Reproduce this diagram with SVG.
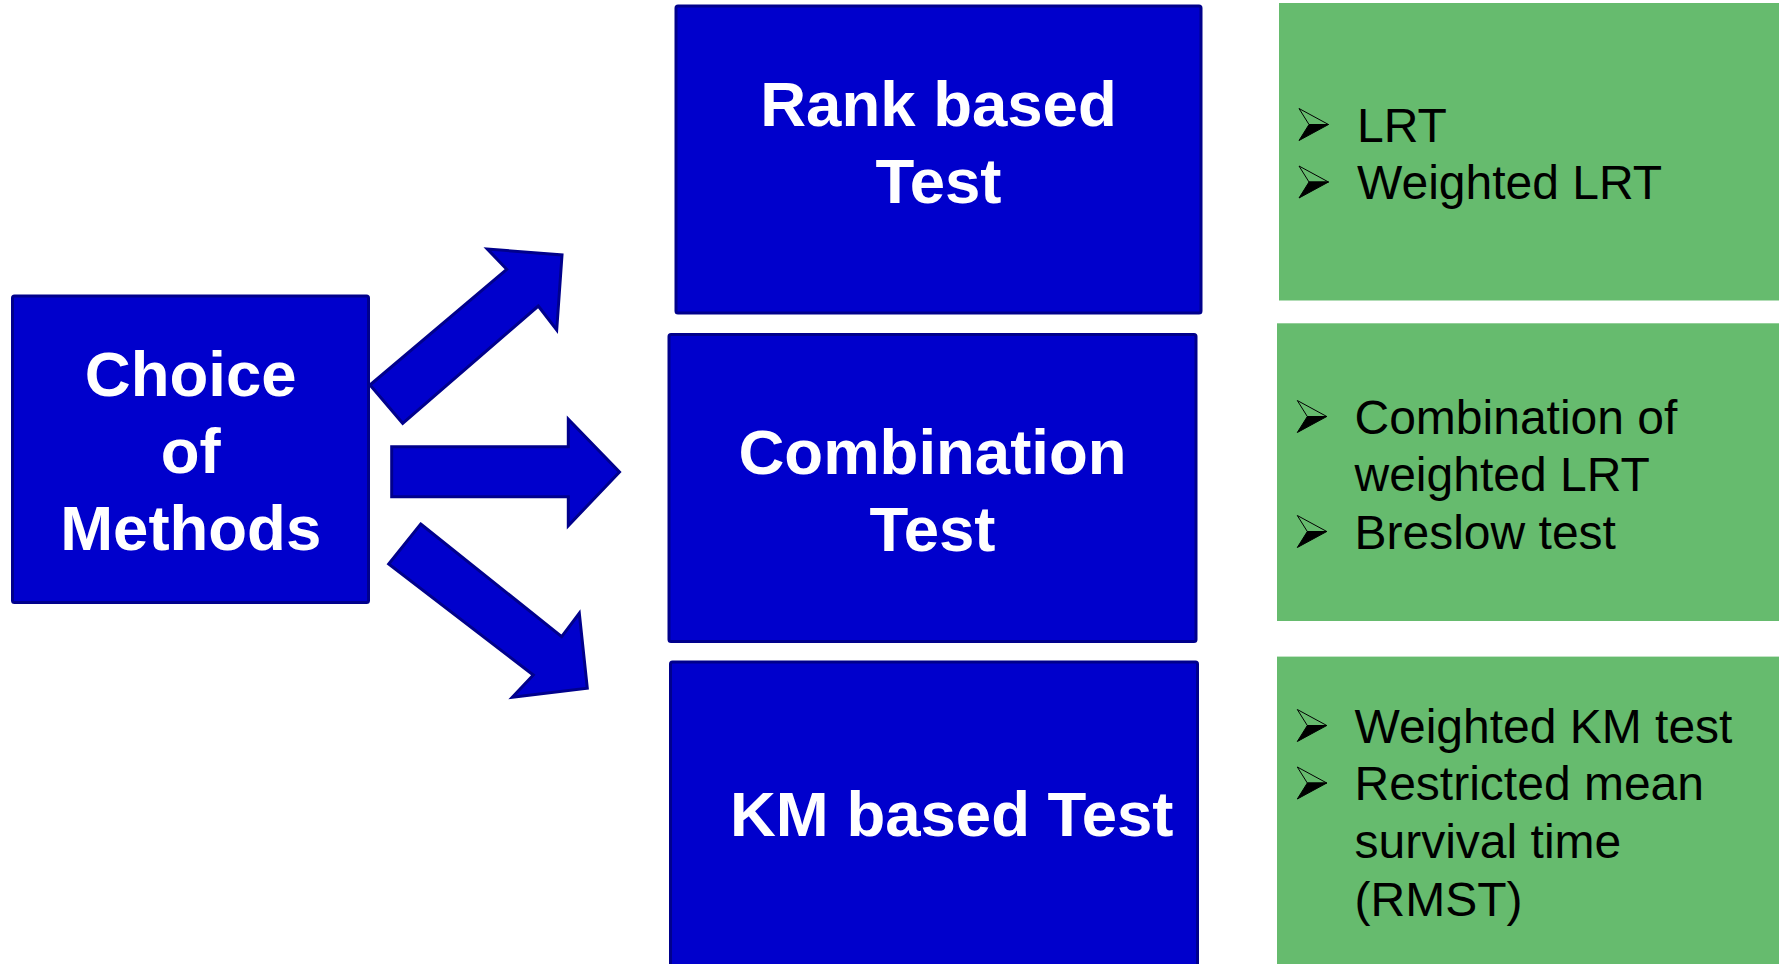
<svg xmlns="http://www.w3.org/2000/svg" width="1779" height="964" viewBox="0 0 1779 964">
<style>
.box{fill:#0000CC;stroke:#00008C;stroke-width:3;}
.green{fill:#66BB6E;}
.arrow{fill:#0000CC;stroke:#00008C;stroke-width:3;stroke-linejoin:miter;}
.bold{font-family:"Liberation Sans",Arial,sans-serif;font-weight:bold;font-size:63.5px;fill:#FFFFFF;text-anchor:middle;}
.item{font-family:"Liberation Sans",Arial,sans-serif;font-size:48px;fill:#000000;}
</style>
<defs>
<g id="bullet">
<path d="M0,0 L29.5,16 L10,16 Z" fill="none" stroke="#000" stroke-width="1"/>
<path d="M10,16 L29.5,16 L0,32 Z" fill="#000" stroke="#000" stroke-width="1" stroke-linejoin="miter"/>
</g>
</defs>
<rect width="1779" height="964" fill="#FFFFFF"/>

<g id="connectors">
<polygon class="arrow" points="370,385 506.7,269.3 487.3,249 562,255 556.7,330 538.3,306 402.7,423.3"/>
<polygon class="arrow" points="391.7,446.7 568.3,446.7 568.3,419.3 619.5,472 568.3,525.7 568.3,496.7 391.7,496.7"/>
<polygon class="arrow" points="420.7,524 561.7,636.7 579.3,613.3 587.3,688.3 512.3,697.3 533.3,675 388.7,564"/>
</g>

<g id="choice">
<rect class="box" x="12.5" y="296" width="356" height="306.5" rx="2"/>
<text class="bold" x="190.7" y="396">Choice</text>
<text class="bold" x="190.7" y="473">of</text>
<text class="bold" x="190.7" y="550">Methods</text>
</g>

<g id="rank">
<rect class="box" x="676" y="6" width="525" height="307" rx="2"/>
<text class="bold" x="938.5" y="126">Rank based</text>
<text class="bold" x="938.5" y="203">Test</text>
</g>

<g id="combination">
<rect class="box" x="669" y="334.5" width="527" height="307" rx="2"/>
<text class="bold" x="932.5" y="473.5">Combination</text>
<text class="bold" x="932.5" y="550.5">Test</text>
</g>

<g id="km">
<rect class="box" x="670.5" y="662" width="527" height="320" rx="2"/>
<text class="bold" x="730" y="836" style="text-anchor:start">KM based Test</text>
</g>

<g id="list-rank">
<rect class="green" x="1279" y="3" width="510" height="297.5"/>
<use href="#bullet" x="1299" y="108.5"/>
<text class="item" x="1357" y="141.7">LRT</text>
<use href="#bullet" x="1299" y="166"/>
<text class="item" x="1357" y="199.2">Weighted LRT</text>
</g>

<g id="list-combination">
<rect class="green" x="1277" y="323.3" width="512" height="297.7"/>
<use href="#bullet" x="1297.3" y="400.5"/>
<text class="item" x="1354.5" y="433.5">Combination of</text>
<text class="item" x="1354.5" y="491">weighted LRT</text>
<use href="#bullet" x="1297.3" y="515.5"/>
<text class="item" x="1354.5" y="548.5">Breslow test</text>
</g>

<g id="list-km">
<rect class="green" x="1277" y="656.6" width="512" height="320"/>
<use href="#bullet" x="1297.3" y="709.5"/>
<text class="item" x="1354.5" y="742.5">Weighted KM test</text>
<use href="#bullet" x="1297.3" y="767"/>
<text class="item" x="1354.5" y="800">Restricted mean</text>
<text class="item" x="1354.5" y="858">survival time</text>
<text class="item" x="1354.5" y="916">(RMST)</text>
</g>
</svg>
